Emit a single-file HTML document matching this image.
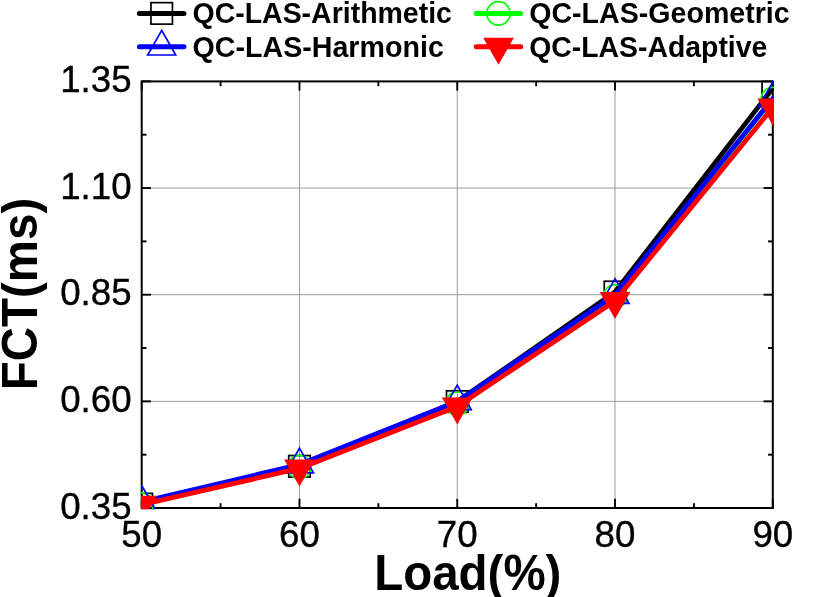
<!DOCTYPE html>
<html><head><meta charset="utf-8"><title>FCT vs Load</title>
<style>
html,body{margin:0;padding:0;background:#fff;}
body{width:830px;height:597px;overflow:hidden;}
svg{display:block;will-change:transform;}
text{font-family:"Liberation Sans",sans-serif;fill:#000;}
.tk{font-size:36.7px;stroke:#000;stroke-width:0.35px;}
.ax{font-size:47.5px;font-weight:bold;}
.lg{font-size:28.3px;font-weight:bold;}
</style></head><body>
<svg width="830" height="597" viewBox="0 0 830 597">
<rect width="830" height="597" fill="#fff"/>
<defs><clipPath id="cp"><rect x="141.0" y="80.4" width="632.9" height="428.8"/></clipPath></defs>
<g stroke="#9c9c9c" stroke-width="1" fill="none"><line x1="299.47" y1="81.4" x2="299.47" y2="508.0"/><line x1="457.25" y1="81.4" x2="457.25" y2="508.0"/><line x1="615.02" y1="81.4" x2="615.02" y2="508.0"/><line x1="141.7" y1="401.35" x2="772.8" y2="401.35"/><line x1="141.7" y1="294.70" x2="772.8" y2="294.70"/><line x1="141.7" y1="188.05" x2="772.8" y2="188.05"/></g>
<g stroke="#000" stroke-width="1.9" fill="none"><line x1="141.70" y1="508.0" x2="141.70" y2="498.8"/><line x1="141.70" y1="81.4" x2="141.70" y2="90.60000000000001"/><line x1="220.59" y1="508.0" x2="220.59" y2="503.2"/><line x1="220.59" y1="81.4" x2="220.59" y2="86.2"/><line x1="299.47" y1="508.0" x2="299.47" y2="498.8"/><line x1="299.47" y1="81.4" x2="299.47" y2="90.60000000000001"/><line x1="378.36" y1="508.0" x2="378.36" y2="503.2"/><line x1="378.36" y1="81.4" x2="378.36" y2="86.2"/><line x1="457.25" y1="508.0" x2="457.25" y2="498.8"/><line x1="457.25" y1="81.4" x2="457.25" y2="90.60000000000001"/><line x1="536.14" y1="508.0" x2="536.14" y2="503.2"/><line x1="536.14" y1="81.4" x2="536.14" y2="86.2"/><line x1="615.02" y1="508.0" x2="615.02" y2="498.8"/><line x1="615.02" y1="81.4" x2="615.02" y2="90.60000000000001"/><line x1="693.91" y1="508.0" x2="693.91" y2="503.2"/><line x1="693.91" y1="81.4" x2="693.91" y2="86.2"/><line x1="772.80" y1="508.0" x2="772.80" y2="498.8"/><line x1="772.80" y1="81.4" x2="772.80" y2="90.60000000000001"/><line x1="141.7" y1="508.00" x2="150.89999999999998" y2="508.00"/><line x1="772.8" y1="508.00" x2="763.5999999999999" y2="508.00"/><line x1="141.7" y1="454.68" x2="146.5" y2="454.68"/><line x1="772.8" y1="454.68" x2="768.0" y2="454.68"/><line x1="141.7" y1="401.35" x2="150.89999999999998" y2="401.35"/><line x1="772.8" y1="401.35" x2="763.5999999999999" y2="401.35"/><line x1="141.7" y1="348.02" x2="146.5" y2="348.02"/><line x1="772.8" y1="348.02" x2="768.0" y2="348.02"/><line x1="141.7" y1="294.70" x2="150.89999999999998" y2="294.70"/><line x1="772.8" y1="294.70" x2="763.5999999999999" y2="294.70"/><line x1="141.7" y1="241.38" x2="146.5" y2="241.38"/><line x1="772.8" y1="241.38" x2="768.0" y2="241.38"/><line x1="141.7" y1="188.05" x2="150.89999999999998" y2="188.05"/><line x1="772.8" y1="188.05" x2="763.5999999999999" y2="188.05"/><line x1="141.7" y1="134.72" x2="146.5" y2="134.72"/><line x1="772.8" y1="134.72" x2="768.0" y2="134.72"/><line x1="141.7" y1="81.40" x2="150.89999999999998" y2="81.40"/><line x1="772.8" y1="81.40" x2="763.5999999999999" y2="81.40"/></g>
<rect x="141.7" y="81.4" width="631.10" height="426.60" fill="none" stroke="#000" stroke-width="2"/>
<g clip-path="url(#cp)"><polyline points="141.70,504.10 299.47,466.30 457.25,401.60 615.02,292.00 772.80,88.30" fill="none" stroke="#000" stroke-width="4.85" stroke-linejoin="round" stroke-linecap="round"/>
<rect x="130.95" y="493.35" width="21.5" height="21.5" fill="none" stroke="#000" stroke-width="1.7"/>
<rect x="288.72" y="455.55" width="21.5" height="21.5" fill="none" stroke="#000" stroke-width="1.7"/>
<rect x="446.50" y="390.85" width="21.5" height="21.5" fill="none" stroke="#000" stroke-width="1.7"/>
<rect x="604.27" y="281.25" width="21.5" height="21.5" fill="none" stroke="#000" stroke-width="1.7"/>
<rect x="762.05" y="77.55" width="21.5" height="21.5" fill="none" stroke="#000" stroke-width="1.7"/>
<polyline points="141.70,504.50 299.47,467.00 457.25,403.70 615.02,296.50 772.80,99.10" fill="none" stroke="#00ff00" stroke-width="4.85" stroke-linejoin="round" stroke-linecap="round"/>
<circle cx="141.70" cy="504.50" r="11.7" fill="none" stroke="#00ff00" stroke-width="1.7"/>
<circle cx="299.47" cy="467.00" r="11.7" fill="none" stroke="#00ff00" stroke-width="1.7"/>
<circle cx="457.25" cy="403.70" r="11.7" fill="none" stroke="#00ff00" stroke-width="1.7"/>
<circle cx="615.02" cy="296.50" r="11.7" fill="none" stroke="#00ff00" stroke-width="1.7"/>
<circle cx="772.80" cy="99.10" r="11.7" fill="none" stroke="#00ff00" stroke-width="1.7"/>
<polyline points="141.70,501.90 299.47,464.60 457.25,401.50 615.02,295.10 772.80,98.40" fill="none" stroke="#0000ff" stroke-width="4.85" stroke-linejoin="round" stroke-linecap="round"/>
<path d="M141.70 485.50 L155.70 510.10 L127.70 510.10 Z" fill="none" stroke="#0000ff" stroke-width="1.7" stroke-linejoin="miter"/>
<path d="M299.47 448.20 L313.47 472.80 L285.47 472.80 Z" fill="none" stroke="#0000ff" stroke-width="1.7" stroke-linejoin="miter"/>
<path d="M457.25 385.10 L471.25 409.70 L443.25 409.70 Z" fill="none" stroke="#0000ff" stroke-width="1.7" stroke-linejoin="miter"/>
<path d="M615.02 278.70 L629.02 303.30 L601.02 303.30 Z" fill="none" stroke="#0000ff" stroke-width="1.7" stroke-linejoin="miter"/>
<path d="M772.80 82.00 L786.80 106.60 L758.80 106.60 Z" fill="none" stroke="#0000ff" stroke-width="1.7" stroke-linejoin="miter"/>
<polyline points="141.70,504.70 299.47,468.40 457.25,406.50 615.02,300.90 772.80,107.50" fill="none" stroke="#ff0000" stroke-width="4.85" stroke-linejoin="round" stroke-linecap="round"/>
<path d="M141.70 522.70 L157.05 495.70 L126.35 495.70 Z" fill="#ff0000"/>
<path d="M299.47 486.40 L314.82 459.40 L284.12 459.40 Z" fill="#ff0000"/>
<path d="M457.25 424.50 L472.60 397.50 L441.90 397.50 Z" fill="#ff0000"/>
<path d="M615.02 318.90 L630.37 291.90 L599.67 291.90 Z" fill="#ff0000"/>
<path d="M772.80 125.50 L788.15 98.50 L757.45 98.50 Z" fill="#ff0000"/></g>
<text class="tk" x="141.70" y="547.3" text-anchor="middle">50</text><text class="tk" x="299.47" y="547.3" text-anchor="middle">60</text><text class="tk" x="457.25" y="547.3" text-anchor="middle">70</text><text class="tk" x="615.02" y="547.3" text-anchor="middle">80</text><text class="tk" x="772.80" y="547.3" text-anchor="middle">90</text><text class="tk" x="131.6" y="518.50" text-anchor="end">0.35</text><text class="tk" x="131.6" y="411.85" text-anchor="end">0.60</text><text class="tk" x="131.6" y="305.20" text-anchor="end">0.85</text><text class="tk" x="131.6" y="198.55" text-anchor="end">1.10</text><text class="tk" x="131.6" y="91.90" text-anchor="end">1.35</text>
<text class="ax" transform="translate(467.8,589.7) scale(1,1.058)" text-anchor="middle">Load(%)</text>
<text class="ax" transform="translate(36.5,294) rotate(-90) scale(1,1.058)" text-anchor="middle">FCT(ms)</text>
<line x1="139.4" y1="13.4" x2="183.9" y2="13.4" stroke="#000" stroke-width="5" stroke-linecap="round"/><rect x="150.95" y="2.65" width="21.5" height="21.5" fill="none" stroke="#000" stroke-width="1.7"/><text class="lg" transform="translate(192.5,23.4) scale(1,1.058)" textLength="259.4" lengthAdjust="spacingAndGlyphs">QC-LAS-Arithmetic</text>
<line x1="139.4" y1="46.8" x2="183.9" y2="46.8" stroke="#0000ff" stroke-width="5" stroke-linecap="round"/><path d="M161.70 30.40 L175.70 55.00 L147.70 55.00 Z" fill="none" stroke="#0000ff" stroke-width="1.7" stroke-linejoin="miter"/><text class="lg" transform="translate(192.5,56.8) scale(1,1.058)" textLength="251.3" lengthAdjust="spacingAndGlyphs">QC-LAS-Harmonic</text>
<line x1="476.2" y1="13.4" x2="520.7" y2="13.4" stroke="#00ff00" stroke-width="5" stroke-linecap="round"/><circle cx="498.50" cy="13.40" r="11.7" fill="none" stroke="#00ff00" stroke-width="1.7"/><text class="lg" transform="translate(529.2,23.4) scale(1,1.058)" textLength="260.5" lengthAdjust="spacingAndGlyphs">QC-LAS-Geometric</text>
<line x1="476.2" y1="46.8" x2="520.7" y2="46.8" stroke="#ff0000" stroke-width="5" stroke-linecap="round"/><path d="M498.50 64.80 L513.85 37.80 L483.15 37.80 Z" fill="#ff0000"/><text class="lg" transform="translate(529.2,56.8) scale(1,1.058)" textLength="238.1" lengthAdjust="spacingAndGlyphs">QC-LAS-Adaptive</text>
</svg></body></html>
